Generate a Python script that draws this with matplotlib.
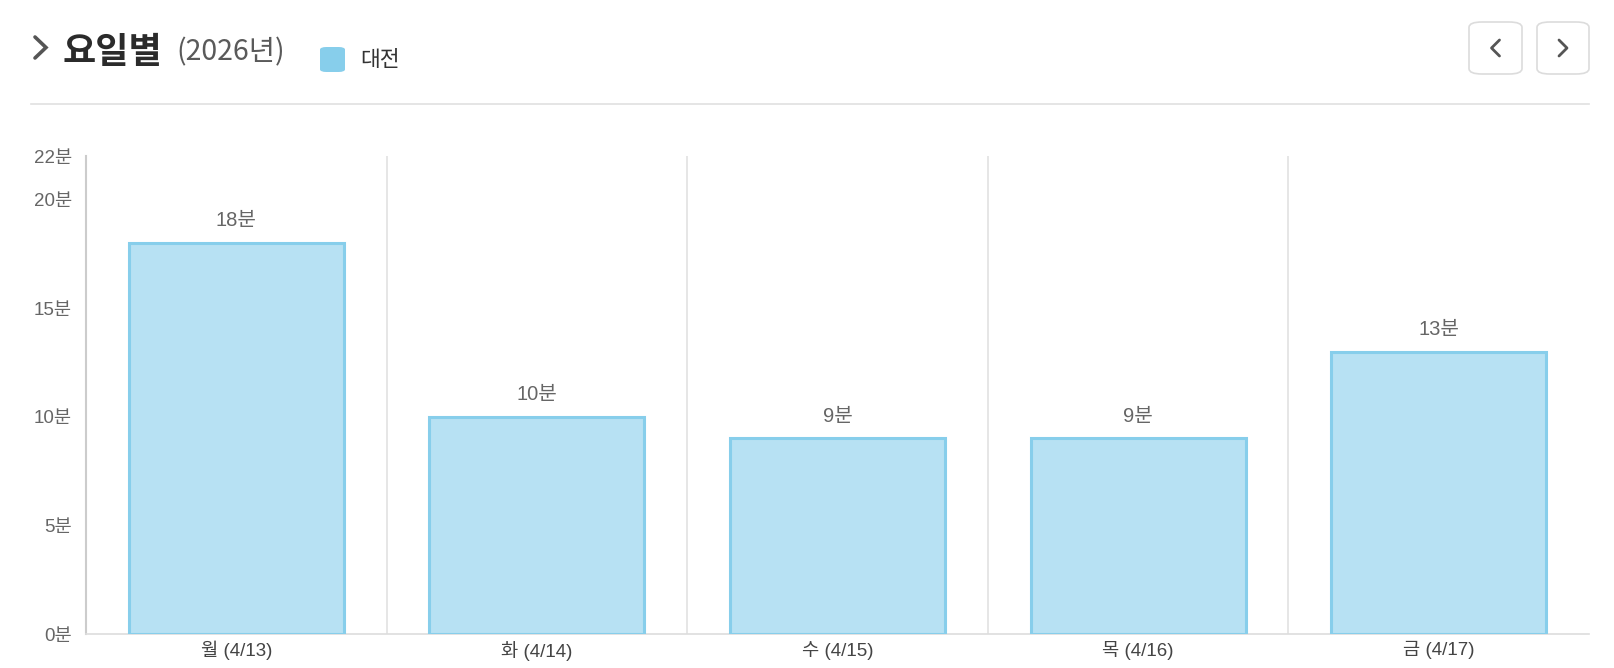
import matplotlib
matplotlib.use("Agg")
import matplotlib.pyplot as plt
from matplotlib.patches import FancyBboxPatch
from matplotlib.lines import Line2D

categories = ["월 (4/13)", "화 (4/14)", "수 (4/15)", "목 (4/16)", "금 (4/17)"]
values = [18, 10, 9, 9, 13]
yticks = [0, 5, 10, 15, 20, 22]
series_name = "대전"
title = "요일별"
subtitle = "(2026년)"

W, H = 1614, 668
DPI = 100
FONT = ["Liberation Sans", "Noto Sans CJK KR", "DejaVu Sans"]
KFONT = ["Noto Sans CJK KR", "DejaVu Sans"]
plt.rcParams["font.family"] = FONT

fig = plt.figure(figsize=(W / DPI, H / DPI), dpi=DPI)
fig.patch.set_facecolor("white")

def fx(px):
    return px / W

def fy(py):
    return 1 - py / H

# axes
L, R, T, B = 86, 1589, 156, 634
ax = fig.add_axes([fx(L), fy(B), fx(R - L), (B - T) / H])
x = list(range(len(categories)))
ax.bar(x, values, width=0.715, color=(135/255, 206/255, 235/255, 0.6),
       edgecolor="#87ceeb", linewidth=2.2, zorder=3)
for xi, v in zip(x, values):
    ax.annotate(f"{v}분", (xi, v), xytext=(0, 9), textcoords="offset points",
                ha="center", va="bottom", fontsize=14.5, color="#666666",
                family=FONT)
ax.set_xlim(-0.5, len(categories) - 0.5)
ax.set_ylim(0, 22)
ax.set_yticks(yticks)
ax.set_yticklabels([f"{t}분" for t in yticks])
ax.set_xticks(x)
ax.set_xticklabels(categories)
ax.tick_params(axis="y", length=0, pad=10, labelsize=13.5, labelcolor="#666666")
ax.tick_params(axis="x", length=0, pad=5, labelsize=13.5, labelcolor="#444444")
for b in range(1, len(categories)):
    ax.axvline(b - 0.5, color="#e2e2e2", linewidth=1.2, zorder=1)
for s in ["top", "right"]:
    ax.spines[s].set_visible(False)
ax.spines["left"].set_color("#cccccc")
ax.spines["left"].set_linewidth(1.5)
ax.spines["bottom"].set_color("#dddddd")
ax.spines["bottom"].set_linewidth(1.2)

# header chevron
fig.add_artist(Line2D([fx(35), fx(46), fx(35)], [fy(37), fy(47.5), fy(58)],
                      color="#555555", linewidth=2.6, solid_capstyle="round",
                      solid_joinstyle="miter"))
fig.text(fx(63), fy(52), title, fontsize=26, fontweight="bold", color="#2b2b2b",
         family=KFONT, ha="left", va="center")
fig.text(fx(176), fy(52), subtitle, fontsize=20.5, color="#5a5a5a",
         family=KFONT, ha="left", va="center")

# legend
fig.add_artist(FancyBboxPatch((fx(320), fy(72)), fx(25), (72 - 47) / H,
                              boxstyle="round,pad=0,rounding_size=0.004",
                              facecolor="#87ceeb", edgecolor="none",
                              transform=fig.transFigure))
fig.text(fx(360), fy(60), series_name, fontsize=15.5, color="#333333",
         family=KFONT, ha="left", va="center")

# separator
fig.add_artist(Line2D([fx(31), fx(1589)], [fy(104), fy(104)], color="#e0e0e0",
                      linewidth=1.2))

# nav buttons
for (x0, x1), d in [((1469, 1522), -1), ((1537, 1589), 1)]:
    fig.add_artist(FancyBboxPatch((fx(x0), fy(74)), fx(x1 - x0), (74 - 22) / H,
                                  boxstyle="round,pad=0,rounding_size=0.008",
                                  facecolor="white", edgecolor="#dcdcdc",
                                  linewidth=1.2, transform=fig.transFigure))
    cx = (x0 + x1) / 2
    xs = [cx - 4 * d, cx + 4 * d, cx - 4 * d]
    fig.add_artist(Line2D([fx(v) for v in xs], [fy(40), fy(48), fy(56)],
                          color="#555555", linewidth=2.0,
                          solid_capstyle="round"))

fig.savefig("out.png", dpi=DPI, facecolor="white")
